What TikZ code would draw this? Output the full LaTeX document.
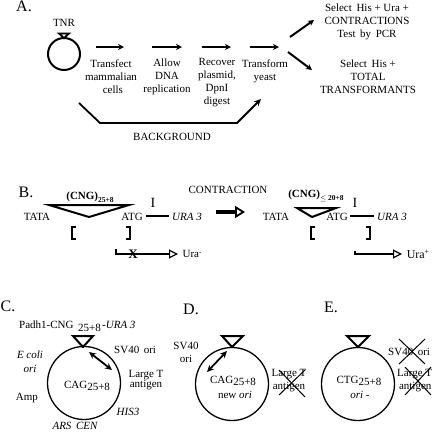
\documentclass[tikz,border=0pt]{standalone}
\usepackage{fontspec}
\setmainfont{Liberation Serif}
\usepackage{tikz}
\usetikzlibrary{arrows.meta}
\newcommand{\lowtxt}[1]{\raisebox{-2.5pt}{#1}}
\newcommand{\subtxt}[1]{\raisebox{-2.5pt}{\fontsize{7.5}{8}\selectfont #1}}
\tikzset{
  txt/.style={inner sep=0pt,font=\fontsize{11}{12}\selectfont,align=center,text=black},
  ittxt/.style={txt,font=\fontsize{11}{12}\selectfont\itshape},
  panel/.style={inner sep=0pt,font=\fontsize{16}{18}\selectfont,text=black},
  flow/.style={line width=2pt,-{Stealth[length=6pt,width=6pt]}},
  bgline/.style={line width=1.8pt,line join=miter},
  insert/.style={draw,line width=2pt,line join=miter},
  tickline/.style={line width=1.6pt},
  brk/.style={line width=1.9pt},
  promo/.style={line width=1.3pt,-{Triangle[open,length=9pt,width=9pt,line width=1.2pt]}},
  plasmid/.style={draw,circle,line width=1.3pt,inner sep=0pt},
  dbl/.style={line width=1.8pt,{Stealth[length=7pt,width=6.5pt]}-{Stealth[length=7pt,width=6.5pt]}},
  crossout/.style={line width=1pt},
}
\begin{document}
\begin{tikzpicture}[x=1pt,y=-1pt]
\useasboundingbox (0,0) rectangle (432,432);
\fill[white] (0,0) rectangle (432,432);
% ---------- A
\node[panel] (pa) at (24,6) {A.};
\node[txt] (tnr) at (64,23) {TNR};
\node[plasmid,line width=2pt,minimum size=32pt] (ringA) at (64,54) {};
\draw[line width=1.8pt,line join=miter] (59,33.5) -- (69,33.5) -- (64,38) -- cycle;
\foreach \n/\a/\b in {s1/96/124,s2/152/182,s3/202/231,s4/250/279}{
  \coordinate (\n a) at (\a,47); \coordinate (\n b) at (\b,47);
  \draw[flow] (\n a) -- (\n b);
}
\node[txt] (t1) at (111,77) {Transfect\\[1pt]mammalian\\[1pt]\,\,cells};
\node[txt] (t2) at (167,77) {Allow\\[1pt]DNA\\[1pt]replication};
\node[txt] (t3) at (217,83) {Recover\\[1pt]plasmid,\\[1pt]DpnI\\[1pt]digest};
\node[txt] (t4) at (265,71.5) {Transform\\[1pt]yeast};
\coordinate (u1) at (290,37); \coordinate (u2) at (314,20);
\coordinate (d1) at (288,52); \coordinate (d2) at (312,70);
\draw[flow] (u1) -- (u2);
\draw[flow] (d1) -- (d2);
\node[txt] (r1) at (367,21.5) {Select\, His + Ura +\\[1pt]CONTRACTIONS\\[1pt]Test\, by\, PCR};
\node[txt] (r2) at (368,77) {Select\, His +\\[1pt]TOTAL\\[1pt]TRANSFORMANTS};
\coordinate (b1) at (79,103); \coordinate (b2) at (100,123);
\coordinate (b3) at (237,123); \coordinate (b4) at (261,99);
\draw[bgline,-{Stealth[length=7pt,width=6.5pt]}] (b1) -- (b2) -- (b3) -- (b4);
\node[txt] (bg) at (172,137) {BACKGROUND};
% ---------- B
\node[panel] (pb) at (26,192) {B.};
\node[txt,font=\fontsize{11}{12}\selectfont\bfseries] (cng1) at (90,197) {(CNG)\subtxt{25+8}};
\coordinate (ta1) at (49,205); \coordinate (ta2) at (129,205); \coordinate (ta3) at (89,217);
\draw[insert] (ta1) -- (ta2) -- (ta3) -- cycle;
\node[txt] (tata1) at (37,216.5) {TATA};
\node[txt] (atg1) at (132,216.5) {ATG};
\coordinate (l1a) at (146,216); \coordinate (l1b) at (169,216);
\draw[tickline] (l1a) -- (l1b);
\node[txt,font=\fontsize{14}{14}\selectfont] (i1) at (153,203) {I};
\node[ittxt] (ura1) at (187,216.5) {URA 3};
\draw[brk] (76,227) -- (72,227) -- (72,239) -- (76,239);
\draw[brk] (126,227) -- (130,227) -- (130,239) -- (126,239);
\coordinate (p1a) at (116,249); \coordinate (p1b) at (116,254); \coordinate (p1c) at (178,254);
\draw[promo] (p1a) -- (p1b) -- (p1c);
\node[txt,font=\fontsize{13}{13}\selectfont\bfseries] (x1) at (133,254) {X};
\node[txt] (um) at (192,254) {Ura\raisebox{3pt}{\fontsize{7}{7}\selectfont -}};
\node[txt] (con) at (228,190) {CONTRACTION};
\coordinate (ca) at (216,212); \coordinate (cb) at (245,212);
\draw[line width=3.4pt,-{Triangle[open,length=10pt,width=12pt,line width=1.8pt]}] (ca) -- (cb);
\node[txt] (tata2) at (276,216.5) {TATA};
\node[txt,font=\fontsize{11}{12}\selectfont\bfseries] (cng2) at (316,196) {(CNG)\subtxt{$\leq$ 20+8}};
\coordinate (tb1) at (297,208); \coordinate (tb2) at (336,208); \coordinate (tb3) at (312,217);
\draw[insert] (tb1) -- (tb2) -- (tb3) -- cycle;
\node[txt] (atg2) at (337,217) {ATG};
\coordinate (l2a) at (350,216); \coordinate (l2b) at (374,216);
\draw[tickline] (l2a) -- (l2b);
\node[txt,font=\fontsize{14}{14}\selectfont] (i2) at (355,203) {I};
\node[ittxt] (ura2) at (392,217) {URA 3};
\draw[brk] (315,227) -- (311,227) -- (311,239) -- (315,239);
\draw[brk] (366,227) -- (370,227) -- (370,239) -- (366,239);
\coordinate (p2a) at (355,251); \coordinate (p2b) at (355,254); \coordinate (p2c) at (402,254);
\draw[promo] (p2a) -- (p2b) -- (p2c);
\node[txt,font=\fontsize{12}{12}\selectfont] (up) at (418,254) {Ura\raisebox{4pt}{\fontsize{8}{8}\selectfont +}};
% ---------- C
\node[panel] (pc) at (8,306) {C.};
\node[txt,anchor=west] (pad) at (19,326) {Padh1-CNG\, \lowtxt{25+8}};
\node[ittxt,anchor=west] (ura3) at (102,325) {-URA 3};
\draw[insert] (73,336) -- (93,336) -- (83,347) -- cycle;
\node[plasmid,minimum size=73pt] (ringC) at (84,383) {};
\coordinate (dc1) at (89,352); \coordinate (dc2) at (112,370);
\draw[dbl] (dc1) -- (dc2);
\node[txt,anchor=west] (svc) at (114,350) {SV40\, ori};
\node[ittxt] (ec) at (30,362) {E coli\\[2pt]ori};
\node[txt] (ltc) at (146,380) {Large T\\[-2pt]antigen};
\node[txt] (cagc) at (87,386) {CAG\lowtxt{25+8}};
\node[txt] (amp) at (27,398) {Amp};
\node[ittxt] (his) at (128,412) {HIS3};
\node[ittxt] (ars) at (75,425.5) {ARS\, CEN};
% ---------- D
\node[panel] (pd) at (191,309) {D.};
\draw[insert] (222,336) -- (243,336) -- (232,347) -- cycle;
\node[plasmid,minimum size=73pt] (ringD) at (232,384) {};
\coordinate (dd1) at (227,351); \coordinate (dd2) at (207,372);
\draw[dbl] (dd1) -- (dd2);
\node[txt] (svd) at (186,352.5) {SV40\\[1pt]ori};
\node[txt] (cagd) at (233,381) {CAG\lowtxt{25+8}};
\node[txt] (newd) at (235,395) {new \textit{ori}};
\node[txt] (ltd) at (289,380.5) {Large T\\[1pt]antigen};
\draw[crossout] (279,370) -- (305,397);
\draw[crossout] (279,395) -- (305,370);
% ---------- E
\node[panel] (pe) at (331,307) {E.};
\draw[insert] (347,336) -- (369,336) -- (358,347) -- cycle;
\node[plasmid,minimum size=73pt] (ringE) at (358,384) {};
\node[txt] (cage) at (359,381) {CTG\lowtxt{25+8}};
\node[txt] (orie) at (360,395) {\textit{ori} -};
\node[txt,anchor=west] (sve) at (388,352) {SV40\, ori};
\draw[crossout] (399,339) -- (425,364);
\draw[crossout] (425,339) -- (399,364);
\node[txt,anchor=west,align=left] (lte) at (397,381) {Large T\\[1pt]\,antigen};
\draw[crossout] (405,367) -- (431,395);
\draw[crossout] (405,395) -- (431,367);
\end{tikzpicture}
\end{document}
